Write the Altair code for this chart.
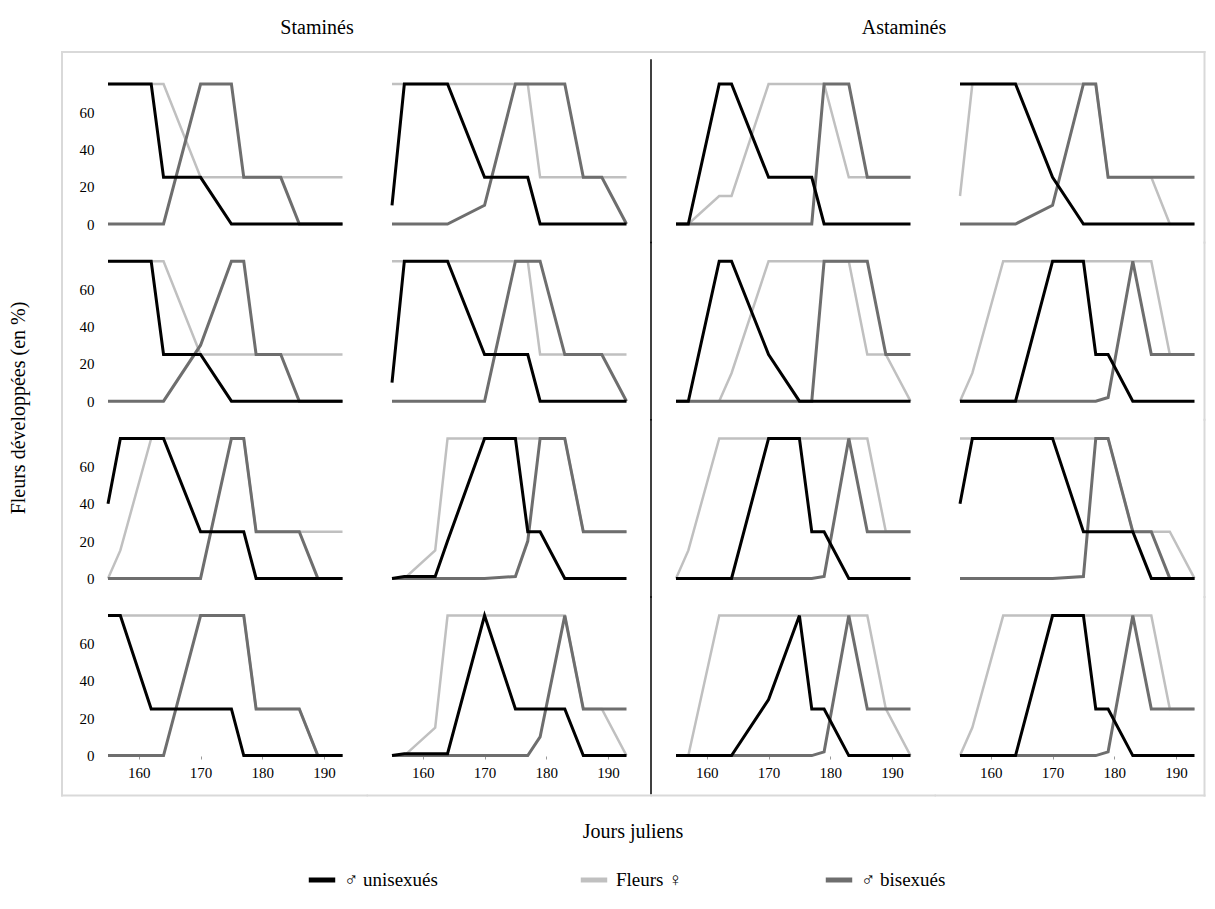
import altair as alt
import pandas as pd

SERIF = "Liberation Serif, Times New Roman, serif"

DAYS = [155, 157, 162, 164, 170, 175, 177, 179, 183, 186, 189, 193]
SERIES = ["♂ unisexués", "Fleurs ♀", "♂ bisexués"]
COLORS = ["#000000", "#c0c0c0", "#6e6e6e"]
HEADERS = ["Staminés", "Astaminés"]
X_TICKS = [160, 170, 180, 190]
Y_TICKS = [0, 20, 40, 60]

# ---- row 1 ----
UNI_11 = [75, 75, 75, 25, 25, 0, 0, 0, 0, 0, 0, 0]
FEM_11 = [75, 75, 75, 75, 25, 25, 25, 25, 25, 25, 25, 25]
BIS_11 = [0, 0, 0, 0, 75, 75, 25, 25, 25, 0, 0, 0]
UNI_12 = [10, 75, 75, 75, 25, 25, 25, 0, 0, 0, 0, 0]
FEM_12 = [75, 75, 75, 75, 75, 75, 75, 25, 25, 25, 25, 25]
BIS_12 = [0, 0, 0, 0, 10, 75, 75, 75, 75, 25, 25, 0]
UNI_13 = [0, 0, 75, 75, 25, 25, 25, 0, 0, 0, 0, 0]
FEM_13 = [0, 0, 15, 15, 75, 75, 75, 75, 25, 25, 25, 25]
BIS_13 = [0, 0, 0, 0, 0, 0, 0, 75, 75, 25, 25, 25]
UNI_14 = [75, 75, 75, 75, 25, 0, 0, 0, 0, 0, 0, 0]
FEM_14 = [15, 75, 75, 75, 75, 75, 75, 25, 25, 25, 0, 0]
BIS_14 = [0, 0, 0, 0, 10, 75, 75, 25, 25, 25, 25, 25]
# ---- row 2 ----
UNI_21 = [75, 75, 75, 25, 25, 0, 0, 0, 0, 0, 0, 0]
FEM_21 = [75, 75, 75, 75, 25, 25, 25, 25, 25, 25, 25, 25]
BIS_21 = [0, 0, 0, 0, 30, 75, 75, 25, 25, 0, 0, 0]
UNI_22 = [10, 75, 75, 75, 25, 25, 25, 0, 0, 0, 0, 0]
FEM_22 = [75, 75, 75, 75, 75, 75, 75, 25, 25, 25, 25, 25]
BIS_22 = [0, 0, 0, 0, 0, 75, 75, 75, 25, 25, 25, 0]
UNI_23 = [0, 0, 75, 75, 25, 0, 0, 0, 0, 0, 0, 0]
FEM_23 = [0, 0, 0, 15, 75, 75, 75, 75, 75, 25, 25, 0]
BIS_23 = [0, 0, 0, 0, 0, 0, 0, 75, 75, 75, 25, 25]
UNI_24 = [0, 0, 0, 0, 75, 75, 25, 25, 0, 0, 0, 0]
FEM_24 = [0, 15, 75, 75, 75, 75, 75, 75, 75, 75, 25, 25]
BIS_24 = [0, 0, 0, 0, 0, 0, 0, 2, 75, 25, 25, 25]
# ---- row 3 ----
UNI_31 = [40, 75, 75, 75, 25, 25, 25, 0, 0, 0, 0, 0]
FEM_31 = [0, 15, 75, 75, 75, 75, 75, 25, 25, 25, 25, 25]
BIS_31 = [0, 0, 0, 0, 0, 75, 75, 25, 25, 25, 0, 0]
UNI_32 = [0, 1, 1, 20, 75, 75, 25, 25, 0, 0, 0, 0]
FEM_32 = [0, 0, 15, 75, 75, 75, 75, 75, 75, 25, 25, 25]
BIS_32 = [0, 0, 0, 0, 0, 1, 20, 75, 75, 25, 25, 25]
UNI_33 = [0, 0, 0, 0, 75, 75, 25, 25, 0, 0, 0, 0]
FEM_33 = [0, 15, 75, 75, 75, 75, 75, 75, 75, 75, 25, 25]
BIS_33 = [0, 0, 0, 0, 0, 0, 0, 1, 75, 25, 25, 25]
UNI_34 = [40, 75, 75, 75, 75, 25, 25, 25, 25, 0, 0, 0]
FEM_34 = [75, 75, 75, 75, 75, 75, 75, 75, 25, 25, 25, 0]
BIS_34 = [0, 0, 0, 0, 0, 1, 75, 75, 25, 25, 0, 0]
# ---- row 4 ----
UNI_41 = [75, 75, 25, 25, 25, 25, 0, 0, 0, 0, 0, 0]
FEM_41 = [75, 75, 75, 75, 75, 75, 75, 25, 25, 25, 0, 0]
BIS_41 = [0, 0, 0, 0, 75, 75, 75, 25, 25, 25, 0, 0]
UNI_42 = [0, 1, 1, 1, 75, 25, 25, 25, 25, 0, 0, 0]
FEM_42 = [0, 0, 15, 75, 75, 75, 75, 75, 75, 25, 25, 0]
BIS_42 = [0, 0, 0, 0, 0, 0, 0, 10, 75, 25, 25, 25]
UNI_43 = [0, 0, 0, 0, 30, 75, 25, 25, 0, 0, 0, 0]
FEM_43 = [0, 0, 75, 75, 75, 75, 75, 75, 75, 75, 25, 0]
BIS_43 = [0, 0, 0, 0, 0, 0, 0, 2, 75, 25, 25, 25]
UNI_44 = [0, 0, 0, 0, 75, 75, 25, 25, 0, 0, 0, 0]
FEM_44 = [0, 15, 75, 75, 75, 75, 75, 75, 75, 75, 25, 25]
BIS_44 = [0, 0, 0, 0, 0, 0, 0, 2, 75, 25, 25, 25]

PANELS = {
    (1, 1): (UNI_11, FEM_11, BIS_11), (1, 2): (UNI_12, FEM_12, BIS_12),
    (1, 3): (UNI_13, FEM_13, BIS_13), (1, 4): (UNI_14, FEM_14, BIS_14),
    (2, 1): (UNI_21, FEM_21, BIS_21), (2, 2): (UNI_22, FEM_22, BIS_22),
    (2, 3): (UNI_23, FEM_23, BIS_23), (2, 4): (UNI_24, FEM_24, BIS_24),
    (3, 1): (UNI_31, FEM_31, BIS_31), (3, 2): (UNI_32, FEM_32, BIS_32),
    (3, 3): (UNI_33, FEM_33, BIS_33), (3, 4): (UNI_34, FEM_34, BIS_34),
    (4, 1): (UNI_41, FEM_41, BIS_41), (4, 2): (UNI_42, FEM_42, BIS_42),
    (4, 3): (UNI_43, FEM_43, BIS_43), (4, 4): (UNI_44, FEM_44, BIS_44),
}

rows = []
for (r, c), series_vals in PANELS.items():
    for name, vals in zip(SERIES, series_vals):
        for d, v in zip(DAYS, vals):
            rows.append({"r": r, "c": c, "day": d, "value": v, "series": name, "kind": "data"})
    rows.append({"r": r, "c": c, "day": None, "value": None, "series": None, "kind": "frame"})
df = pd.DataFrame(rows)

# geometry of each panel (plot area) and of the decorations
W, H = 234.5, 140
SPR, SPC = 37.2, 49
hc, hr = SPC / 2, SPR / 2
L, R, T, B = -46, W + 10, -32, H + 40
FRAME = "#d9d9d9"

x_enc = alt.X("day:Q", scale=alt.Scale(domain=[155, 193], nice=False, zero=False),
              axis=alt.Axis(values=X_TICKS, title=None, grid=False, domain=False,
                            ticks=True, tickSize=3, tickColor="#999999",
                            labelPadding=6, labelFont=SERIF, labelFontSize=15,
                            labelColor="#000000"))
y_enc = alt.Y("value:Q", scale=alt.Scale(domain=[0, 75], nice=False),
              axis=alt.Axis(values=Y_TICKS, title=None, grid=False, domain=False,
                            ticks=False, tickSize=0, labelPadding=14,
                            labelFont=SERIF, labelFontSize=15, labelColor="#000000"))
color_enc = alt.Color("series:N", scale=alt.Scale(domain=SERIES, range=COLORS),
                      legend=alt.Legend(title=None, orient="none", direction="horizontal",
                                        legendX=198, legendY=780, symbolType="stroke",
                                        symbolStrokeWidth=5, symbolSize=700,
                                        labelFont=SERIF, labelFontSize=19,
                                        labelColor="#000000", columnPadding=132,
                                        labelOffset=6))

def series_line(name, sw):
    return alt.Chart().mark_line(strokeWidth=sw).transform_filter(
        alt.datum.series == name).encode(x=x_enc, y=y_enc, color=color_enc)

def deco(cond):
    return alt.Chart().transform_filter(f"datum.kind == 'frame' && ({cond})")

def hline(cond, x1, x2, y, color=FRAME, sw=2):
    return deco(cond).mark_rule(color=color, strokeWidth=sw, strokeCap="square").encode(
        x=alt.value(x1), x2=alt.value(x2), y=alt.value(y))

def vline(cond, x, y1, y2, color=FRAME, sw=2):
    return deco(cond).mark_rule(color=color, strokeWidth=sw, strokeCap="square").encode(
        x=alt.value(x), y=alt.value(y1), y2=alt.value(y2))

def header(cond, text, x, y):
    return deco(cond).mark_text(text=text, font=SERIF, fontSize=20, align="center",
                                baseline="middle", color="#000000").encode(
        x=alt.value(x), y=alt.value(y))

layers = [
    series_line(SERIES[1], 2.5),
    series_line(SERIES[2], 3),
    series_line(SERIES[0], 3),
    # outer frame
    hline("datum.r == 1 && datum.c == 1", L, W + hc, T),
    hline("datum.r == 1 && (datum.c == 2 || datum.c == 3)", -hc, W + hc, T),
    hline("datum.r == 1 && datum.c == 4", -hc, R, T),
    hline("datum.r == 4 && datum.c == 1", L, W + hc, B),
    hline("datum.r == 4 && (datum.c == 2 || datum.c == 3)", -hc, W + hc, B),
    hline("datum.r == 4 && datum.c == 4", -hc, R, B),
    vline("datum.c == 1 && datum.r == 1", L, T, H + hr),
    vline("datum.c == 1 && (datum.r == 2 || datum.r == 3)", L, -hr, H + hr),
    vline("datum.c == 1 && datum.r == 4", L, -hr, B),
    vline("datum.c == 4 && datum.r == 1", R, T, H + hr),
    vline("datum.c == 4 && (datum.r == 2 || datum.r == 3)", R, -hr, H + hr),
    vline("datum.c == 4 && datum.r == 4", R, -hr, B),
    # separator between the two groups
    vline("datum.c == 2 && datum.r == 1", W + hc, -24, H + hr, "#000000", 1.5),
    vline("datum.c == 2 && (datum.r == 2 || datum.r == 3)", W + hc, -hr, H + hr, "#000000", 1.5),
    vline("datum.c == 2 && datum.r == 4", W + hc, -hr, H + 38, "#000000", 1.5),
    # group headers
    header("datum.r == 1 && datum.c == 1", HEADERS[0], 209, -56),
    header("datum.r == 1 && datum.c == 3", HEADERS[1], 228, -56),
]

chart = alt.layer(*layers, data=df).properties(width=W, height=H).facet(
    row=alt.Row("r:O", header=alt.Header(labels=False, title="Fleurs développées (en %)",
                                         titleFont=SERIF, titleFontSize=20,
                                         titleFontWeight="normal", titleColor="#000000",
                                         titlePadding=40)),
    column=alt.Column("c:O", header=alt.Header(labels=False, title="Jours juliens",
                                               titleOrient="bottom", labelOrient="bottom",
                                               titleFont=SERIF, titleFontSize=20,
                                               titleFontWeight="normal", titleColor="#000000",
                                               titlePadding=32)),
    spacing={"row": SPR, "column": SPC},
).properties(
    bounds="flush",
    padding={"left": 0, "top": 10, "right": 0, "bottom": 0},
).configure(font=SERIF).configure_view(stroke=None)

chart.save("out.html", embed_options={"renderer": "svg", "actions": False})
